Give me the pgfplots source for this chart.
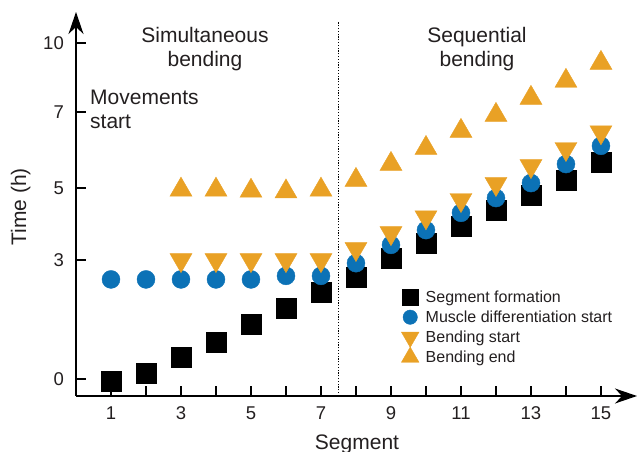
\documentclass[border=0pt]{standalone}
\usepackage{fontspec}
\setmainfont{Liberation Sans}
\usepackage{pgfplots}
\pgfplotsset{compat=1.18}
\usetikzlibrary{arrows.meta}
\definecolor{mblue}{HTML}{0C72B6}
\definecolor{morange}{HTML}{E9A125}
\definecolor{tgray}{HTML}{231F20}
\begin{document}
\begin{tikzpicture}
\useasboundingbox (-76pt,-56pt) rectangle (561pt,396pt);
\begin{axis}[
  at={(0pt,0pt)}, anchor=south west,
  scale only axis, width=561pt, height=384pt,
  xmin=0, xmax=16.03,
  ymin=-0.4286, ymax=11.348,
  y coord trafo/.code={\pgfmathparse{(#1<=3) ? (#1*119/3) : ((#1<=5) ? (119+(#1-3)*36) : ((#1<=7) ? (191+(#1-5)*38) : (267+(#1-7)*23)))}},
  axis lines=left,
  axis line style={line width=1.4pt, -{Stealth[length=22pt,width=15pt,inset=7pt]}},
  tick align=inside,
  major tick length=10pt,
  tick style={line width=1.2pt, black},
  xtick={1,2,3,4,5,6,7,8,9,10,11,12,13,14,15},
  xticklabels={1,,3,,5,,7,,9,,11,,13,,15},
  ytick={0,3,5,7,10},
  yticklabels={0,3,5,7,10},
  ticklabel style={font=\fontsize{18.5}{20}\selectfont, text=tgray, inner sep=0pt},
  xticklabel style={yshift=-10.7pt},
  yticklabel style={xshift=-12pt},
  clip=false,
  legend style={draw=none, fill=none, at={(0.5797,0.2858)}, anchor=north west,
    inner sep=0pt, font=\fontsize{16}{18}\selectfont, text=tgray, row sep=-1.5pt,
    nodes={inner sep=0pt, text height=16.5pt, text depth=5pt},
    /tikz/every odd column/.append style={column sep=6.7pt}},
  legend cell align=left,
  legend image code/.code={\draw[#1, /tikz/every mark/.append style={scale=0.8}] plot coordinates {(0pt,0pt)};},
]
\addplot[forget plot, line width=1.3pt, dash pattern=on 1.2pt off 1.6pt, color=black] coordinates {(7.5,-0.4286) (7.5,10.95)};
\addplot[only marks, mark=square*, mark size=10pt, color=black, mark options={draw=none}] coordinates {
(1,-0.05)(2,0.15)(3,0.54)(4,0.93)(5,1.39)(6,1.79)(7,2.18)(8,2.57)(9,3.06)(10,3.47)(11,3.94)(12,4.39)(13,4.81)(14,5.21)(15,5.68)};
\addlegendentry{Segment formation}
\addplot[only marks, mark=*, mark size=9pt, color=mblue, mark options={draw=none}] coordinates {
(1,2.51)(2,2.51)(3,2.51)(4,2.51)(5,2.51)(6,2.6)(7,2.6)(8,2.92)(9,3.42)(10,3.83)(11,4.31)(12,4.72)(13,5.13)(14,5.63)(15,6.11)};
\addlegendentry{Muscle differentiation start}
\addplot[only marks, mark=triangle*, mark size=12.7pt, color=morange, mark options={draw=none, rotate=180}] coordinates {
(3,3.0)(4,3.0)(5,3.0)(6,3.0)(7,3.0)(8,3.31)(9,3.75)(10,4.19)(11,4.67)(12,5.11)(13,5.58)(14,6.03)(15,6.47)};
\addlegendentry{Bending start}
\addplot[only marks, mark=triangle*, mark size=12.7pt, color=morange, mark options={draw=none}] coordinates {
(3,4.95)(4,4.95)(5,4.92)(6,4.9)(7,4.95)(8,5.21)(9,5.63)(10,6.05)(11,6.5)(12,6.92)(13,7.61)(14,8.35)(15,9.13)};
\addlegendentry{Bending end}
\end{axis}
\begin{scope}[every node/.style={font=\fontsize{21}{24}\selectfont, text=tgray, inner sep=0pt}]
\node[anchor=base] at (129pt,353pt) {Simultaneous};
\node[anchor=base] at (129pt,329pt) {bending};
\node[anchor=base] at (401pt,353pt) {Sequential};
\node[anchor=base] at (401pt,329pt) {bending};
\node[anchor=base west] at (14pt,291pt) {Movements};
\node[anchor=base west] at (14pt,267pt) {start};
\node[anchor=base, rotate=90] at (-50pt,189pt) {Time (h)};
\node[anchor=base] at (281pt,-53pt) {Segment};
\end{scope}
\end{tikzpicture}
\end{document}
